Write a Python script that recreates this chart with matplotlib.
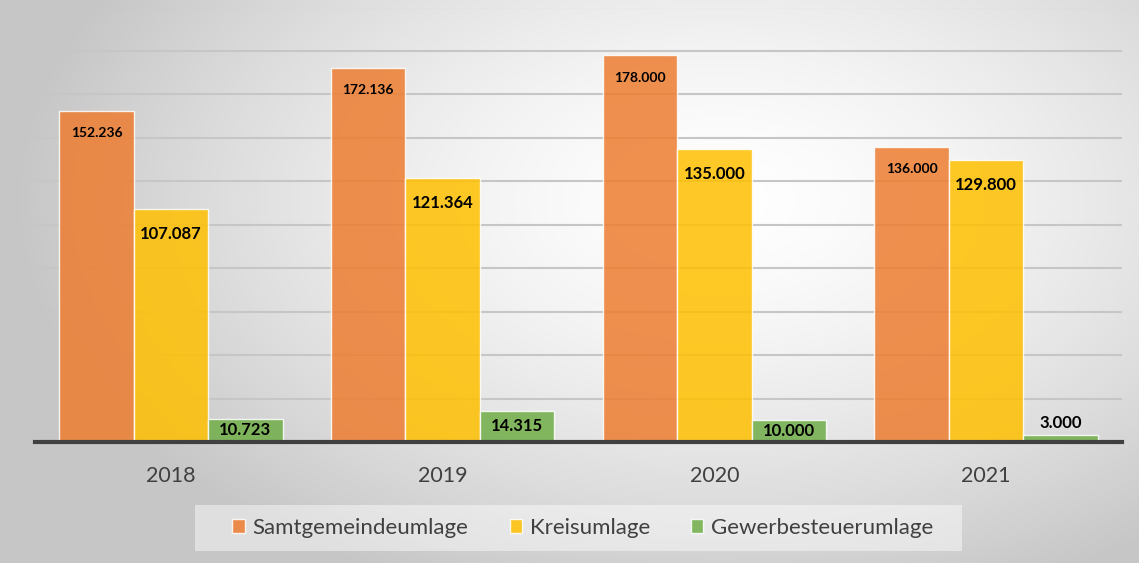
import matplotlib
matplotlib.use('Agg')
import matplotlib.pyplot as plt
from matplotlib.patches import Rectangle
import numpy as np

years = ['2018', '2019', '2020', '2021']
samtgemeindeumlage = [152236, 172136, 178000, 136000]
kreisumlage = [107087, 121364, 135000, 129800]
gewerbesteuerumlage = [10723, 14315, 10000, 3000]
series_names = ['Samtgemeindeumlage', 'Kreisumlage', 'Gewerbesteuerumlage']

plt.rcParams['font.family'] = ['Lato', 'DejaVu Sans']

W, H = 1139, 563
fig = plt.figure(figsize=(W / 100, H / 100), dpi=100)

# radial grey background, light in the middle
bg = fig.add_axes([0, 0, 1, 1], zorder=-5)
yy, xx = np.mgrid[0:H, 0:W]
r = np.sqrt(((xx - 720) / 700.0) ** 2 + ((yy - 200) / 420.0) ** 2)
r = np.clip(r, 0, 1) ** 1.5
shade = 1 - 0.22 * r
bg.imshow(np.dstack([shade, shade, shade]), aspect='auto', extent=(0, W, H, 0))
bg.axis('off')

ax = fig.add_axes([35 / W, 1 - 442 / H, (1122 - 35) / W, (442 - 7.5) / H])
ax.set_facecolor('none')

x = np.arange(len(years))
w = 0.274
colors = ['#ED7D31', '#FFC000', '#70AD47']
data = [samtgemeindeumlage, kreisumlage, gewerbesteuerumlage]

bars = []
for i, (vals, c, name) in enumerate(zip(data, colors, series_names)):
    b = ax.bar(x + (i - 1) * w, vals, w, color=c, alpha=0.85,
               edgecolor=(1, 1, 1, 0.6), linewidth=1, label=name, zorder=2)
    bars.append(b)

def fmt(v):
    return f'{v:,}'.replace(',', '.')

for rect, v in zip(bars[0], samtgemeindeumlage):
    ax.annotate(fmt(v), (rect.get_x() + rect.get_width() / 2, v), xytext=(0, -16),
                textcoords='offset points', ha='center', va='center',
                fontsize=10, fontweight='bold', color='black', zorder=4)
for rect, v in zip(bars[1], kreisumlage):
    ax.annotate(fmt(v), (rect.get_x() + rect.get_width() / 2, v), xytext=(0, -18),
                textcoords='offset points', ha='center', va='center',
                fontsize=12, fontweight='bold', color='black', zorder=4)
for rect, v in zip(bars[2], gewerbesteuerumlage):
    cx = rect.get_x() + rect.get_width() / 2
    if v > 8000:
        ax.annotate(fmt(v), (cx, v / 2), ha='center', va='center',
                    fontsize=12, fontweight='bold', color='black', zorder=4)
    else:
        ax.annotate(fmt(v), (cx, v), xytext=(0, 9), textcoords='offset points',
                    ha='center', va='center', fontsize=12, fontweight='bold',
                    color='black', zorder=4)

ax.set_xlim(-0.5, len(years) - 0.5)
ax.set_ylim(0, 200000)
ax.set_yticks(np.arange(0, 200001, 20000))
ax.yaxis.grid(True, color='#c6c6c6', linewidth=1.5, zorder=0)
ax.set_axisbelow(True)
for s in ['top', 'right', 'left']:
    ax.spines[s].set_visible(False)
ax.spines['bottom'].set_color('#404040')
ax.spines['bottom'].set_linewidth(3)
ax.spines['bottom'].set_zorder(3)
ax.set_xticks(x)
ax.set_xticklabels(years, fontsize=15.5, color='#404040')
ax.tick_params(axis='x', length=0, pad=17)
ax.tick_params(axis='y', left=False, labelleft=False)

# legend box
fig.patches.append(Rectangle((195 / W, 1 - 551 / H), (962 - 195) / W, 46 / H,
                             transform=fig.transFigure, facecolor=(1, 1, 1, 0.45),
                             edgecolor='none', zorder=1))
leg = fig.legend(loc='center', bbox_to_anchor=(583 / W, 1 - 528 / H), ncol=3,
                 frameon=False, fontsize=16, handlelength=0.55, handleheight=0.55,
                 handletextpad=0.36, columnspacing=1.85, borderpad=0.3)
for t in leg.get_texts():
    t.set_color('#404040')

fig.savefig('out.png', dpi=100)
